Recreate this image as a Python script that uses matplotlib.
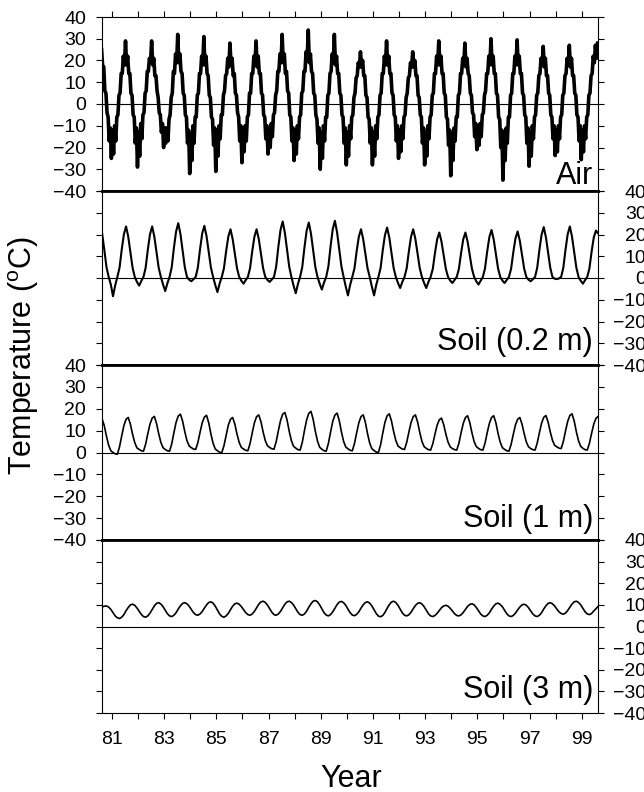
import numpy as np
import matplotlib
matplotlib.use("Agg")
import matplotlib.pyplot as plt

plt.rcParams["font.family"] = ["Liberation Sans", "DejaVu Sans"]
plt.rcParams["mathtext.fontset"] = "custom"
plt.rcParams["mathtext.rm"] = "Liberation Sans"

# Air temperature, two values per month (envelope of the daily scatter), from Aug 1980
air_start = 80 + 14.5 / 24
air_temp = [
    25, 17, 17, 6, 5, -4, -6, -17, -11, -25,
    -12, -23, -10, -17, -6, -5, 4, 5, 14, 14, 22, 18, 29, 18, 22, 14, 14, 5, 4, -5, -6, -18, -11, -29,
    -13, -24, -9, -16, -5, -4, 5, 6, 15, 15, 21, 19, 29, 18, 21, 13, 13, 6, 3, -4, -5, -13, -9, -20,
    -11, -18, -11, -17, -7, -5, 3, 5, 15, 14, 23, 19, 32, 19, 23, 15, 14, 5, 4, -5, -6, -18, -12, -32,
    -14, -26, -10, -18, -6, -6, 4, 5, 14, 14, 22, 18, 31, 18, 22, 14, 13, 4, 3, -6, -7, -19, -11, -31,
    -13, -24, -10, -16, -5, -5, 4, 6, 13, 14, 21, 17, 28, 18, 21, 13, 14, 5, 4, -4, -6, -17, -10, -27,
    -12, -22, -10, -17, -6, -5, 5, 5, 14, 14, 22, 18, 29, 17, 22, 14, 14, 5, 4, -5, -6, -16, -10, -23,
    -11, -20, -9, -15, -5, -4, 4, 6, 15, 15, 23, 19, 32, 19, 23, 14, 15, 6, 5, -5, -6, -17, -11, -26,
    -12, -23, -10, -16, -6, -5, 5, 6, 15, 15, 24, 20, 34, 19, 23, 15, 14, 5, 4, -5, -7, -18, -11, -30,
    -13, -25, -10, -17, -6, -6, 4, 5, 14, 15, 23, 19, 32, 18, 22, 14, 14, 5, 4, -5, -6, -18, -11, -28,
    -13, -24, -10, -16, -6, -5, 3, 5, 12, 13, 19, 17, 24, 17, 20, 13, 13, 4, 3, -6, -7, -18, -11, -28,
    -13, -24, -10, -16, -6, -5, 4, 5, 14, 14, 22, 18, 29, 18, 22, 14, 14, 5, 4, -5, -6, -17, -10, -25,
    -12, -22, -10, -16, -6, -5, 3, 5, 12, 13, 19, 17, 24, 17, 20, 13, 13, 4, 3, -5, -6, -18, -11, -28,
    -13, -24, -10, -16, -6, -5, 4, 5, 14, 14, 22, 18, 29, 18, 22, 14, 14, 5, 4, -6, -7, -19, -12, -33,
    -14, -26, -11, -17, -6, -6, 4, 5, 14, 14, 21, 18, 28, 17, 21, 14, 13, 5, 4, -4, -5, -15, -9, -21,
    -11, -19, -9, -15, -5, -4, 4, 6, 14, 14, 22, 18, 30, 18, 22, 14, 14, 5, 4, -6, -7, -20, -12, -35,
    -14, -26, -11, -18, -6, -6, 4, 5, 14, 14, 22, 18, 29.5, 18, 22, 14, 14, 5, 4, -5, -6, -18, -11, -28.6,
    -13, -24, -10, -16, -6, -5, 4, 5, 13, 14, 21, 18, 26.5, 17, 21, 13, 13, 5, 4, -5, -6, -16, -10, -23.7,
    -12, -22, -10, -16, -6, -5, 4, 5, 13, 14, 21, 18, 27, 17, 21, 13, 13, 5, 4, -5, -6, -17, -10, -25.6,
    -12, -22, -10, -16, -6, -5, 4, 5, 13, 14, 22, 19, 27, 21, 28,
]

# Soil temperatures, monthly, from Aug 1980
soil_start = 80 + 7.5 / 12
soil02_temp = [
    20.5, 13.0, 5.0, 0.5, -3.0,
    -8.4, -3.4, 0.5, 4.7, 13.0, 20.1, 23.7, 19.0, 11.9, 4.7, 0.5, -1.8,
    -3.5, -1.4, 0.5, 4.7, 13.0, 20.1, 23.7, 19.0, 11.9, 4.7, 0.5, -3.0,
    -6.0, -2.4, 0.5, 5.0, 13.9, 21.4, 25.2, 20.2, 12.6, 5.0, 0.5, -0.8,
    -1.5, -0.6, 0.5, 4.8, 13.2, 20.4, 24.0, 19.2, 12.0, 4.8, 0.5, -3.2,
    -6.5, -2.6, 0.5, 4.5, 12.3, 19.0, 22.4, 17.9, 11.2, 4.5, 0.5, -1.3,
    -2.6, -1.0, 0.5, 4.5, 12.3, 19.0, 22.4, 17.9, 11.2, 4.5, 0.5, -0.9,
    -1.8, -0.7, 0.5, 5.2, 14.3, 22.1, 26.0, 20.8, 13.0, 5.2, 0.5, -3.5,
    -7.0, -2.8, 0.5, 5.1, 14.0, 21.7, 25.5, 20.4, 12.8, 5.1, 0.5, -2.6,
    -5.3, -2.1, 0.5, 5.3, 14.5, 22.4, 26.3, 21.0, 13.2, 5.3, 0.5, -4.0,
    -8.0, -3.2, 0.5, 4.5, 12.3, 19.0, 22.4, 17.9, 11.2, 4.5, 0.5, -4.0,
    -8.0, -3.2, 0.5, 4.6, 12.8, 19.7, 23.2, 18.6, 11.6, 4.6, 0.5, -2.3,
    -4.6, -1.8, 0.5, 4.5, 12.3, 19.0, 22.4, 17.9, 11.2, 4.5, 0.5, -2.3,
    -4.6, -1.8, 0.5, 4.2, 11.5, 17.8, 20.9, 16.7, 10.5, 4.2, 0.5, -1.2,
    -2.3, -0.9, 0.5, 4.2, 11.5, 17.8, 20.9, 16.7, 10.5, 4.2, 0.5, -1.5,
    -3.0, -1.2, 0.5, 4.4, 12.2, 18.8, 22.1, 17.7, 11.1, 4.4, 0.5, -1.2,
    -2.3, -0.9, 0.5, 4.3, 11.8, 18.2, 21.4, 17.1, 10.7, 4.3, 0.5, -0.8,
    -1.5, -0.6, 0.5, 4.7, 12.9, 19.9, 23.4, 18.7, 11.7, 4.7, 0.5, -0.3,
    -0.5, -0.2, 0.5, 4.7, 13.0, 20.1, 23.7, 19.0, 11.9, 4.7, 0.5, -1.3,
    -2.6, -1.0, 0.5, 4.4, 12.1, 18.7, 21.8, 20.5,
]
soil1_temp = [
    15.3, 12.2, 7.4, 3.3, 0.8,
    0.0, -0.6, -0.8, 2.6, 7.6, 12.3, 15.2, 16.0, 12.9, 8.3, 4.5, 2.1,
    1.4, 0.8, 0.6, 3.8, 8.6, 13.0, 15.7, 16.5, 13.3, 8.6, 4.6, 2.2,
    1.4, 0.8, 0.6, 4.0, 9.1, 13.8, 16.7, 17.5, 14.3, 9.5, 5.4, 3.0,
    2.2, 1.6, 1.4, 4.5, 9.2, 13.6, 16.2, 17.0, 13.6, 8.5, 4.2, 1.6,
    0.8, 0.1, -0.1, 3.1, 7.9, 12.5, 15.2, 16.0, 13.0, 8.4, 4.6, 2.3,
    1.6, 1.0, 0.8, 4.1, 9.0, 13.6, 16.4, 17.2, 14.1, 9.4, 5.4, 3.1,
    2.3, 1.7, 1.5, 4.9, 9.9, 14.6, 17.5, 18.3, 14.9, 9.7, 5.4, 2.8,
    2.0, 1.3, 1.1, 4.6, 10.0, 14.9, 17.9, 18.8, 15.2, 9.7, 5.2, 2.4,
    1.5, 0.8, 0.6, 4.1, 9.3, 14.2, 17.1, 18.0, 14.6, 9.4, 5.1, 2.5,
    1.7, 1.0, 0.8, 4.1, 9.0, 13.6, 16.4, 17.2, 13.8, 8.6, 4.3, 1.7,
    0.9, 0.2, 0.0, 3.5, 8.9, 13.8, 16.8, 17.7, 14.4, 9.6, 5.5, 3.0,
    2.2, 1.6, 1.4, 4.6, 9.3, 13.7, 16.4, 17.2, 14.0, 9.2, 5.1, 2.7,
    1.9, 1.3, 1.1, 4.0, 8.4, 12.5, 15.0, 15.7, 12.8, 8.4, 4.8, 2.6,
    1.8, 1.3, 1.1, 4.2, 9.0, 13.3, 16.0, 16.8, 13.7, 9.0, 5.0, 2.7,
    1.9, 1.3, 1.1, 4.2, 9.0, 13.3, 16.0, 16.8, 13.6, 8.7, 4.7, 2.2,
    1.4, 0.8, 0.6, 3.7, 8.3, 12.6, 15.2, 16.0, 13.0, 8.6, 4.8, 2.6,
    1.8, 1.3, 1.1, 4.3, 9.0, 13.4, 16.1, 16.9, 13.9, 9.4, 5.6, 3.3,
    2.6, 2.0, 1.8, 5.0, 9.8, 14.2, 16.9, 17.7, 14.4, 9.4, 5.3, 2.8,
    1.9, 1.3, 1.1, 4.2, 8.8, 13.0, 15.6, 16.5,
]
soil3_temp = [
    9.0, 9.4, 9.5, 9.0, 7.9,
    6.4, 4.9, 4.0, 3.7, 4.3, 5.5, 7.3, 8.8, 10.0, 10.3, 9.8, 8.6,
    7.1, 5.6, 4.6, 4.3, 4.9, 6.2, 7.9, 9.5, 10.7, 11.0, 10.4, 9.2,
    7.5, 5.9, 4.9, 4.6, 5.2, 6.4, 8.1, 9.6, 10.7, 11.0, 10.5, 9.4,
    7.9, 6.4, 5.5, 5.2, 5.8, 6.9, 8.5, 10.0, 11.1, 11.4, 10.8, 9.4,
    7.6, 5.8, 4.7, 4.3, 4.9, 6.1, 7.8, 9.4, 10.5, 10.8, 10.3, 9.2,
    7.8, 6.4, 5.5, 5.2, 5.8, 7.0, 8.7, 10.3, 11.4, 11.7, 11.1, 9.9,
    8.2, 6.6, 5.5, 5.2, 5.8, 7.0, 8.7, 10.3, 11.4, 11.7, 11.1, 9.9,
    8.2, 6.6, 5.5, 5.2, 5.8, 7.1, 8.9, 10.5, 11.7, 12.0, 11.4, 10.0,
    8.2, 6.4, 5.3, 4.9, 5.5, 6.8, 8.5, 10.1, 11.3, 11.6, 11.0, 9.8,
    8.0, 6.4, 5.3, 5.0, 5.6, 6.8, 8.5, 10.0, 11.1, 11.4, 10.8, 9.5,
    7.7, 6.0, 4.8, 4.5, 5.1, 6.5, 8.4, 10.1, 11.3, 11.7, 11.1, 9.8,
    8.0, 6.3, 5.2, 4.9, 5.4, 6.6, 8.2, 9.7, 10.7, 11.0, 10.4, 9.2,
    7.5, 5.9, 4.9, 4.6, 5.1, 6.1, 7.4, 8.7, 9.5, 9.8, 9.4, 8.4,
    7.2, 5.9, 5.1, 4.9, 5.4, 6.5, 7.9, 9.3, 10.2, 10.5, 10.0, 8.8,
    7.3, 5.8, 4.9, 4.6, 5.2, 6.3, 8.0, 9.4, 10.5, 10.8, 10.2, 9.1,
    7.5, 5.9, 4.9, 4.6, 5.1, 6.2, 7.7, 9.0, 10.0, 10.3, 9.8, 8.7,
    7.2, 5.8, 4.9, 4.6, 5.2, 6.4, 8.1, 9.6, 10.7, 11.0, 10.5, 9.5,
    8.1, 6.8, 6.0, 5.7, 6.2, 7.4, 8.9, 10.4, 11.4, 11.7, 11.1, 10.0,
    8.4, 6.8, 5.8, 5.5, 6.0, 7.2, 8.2, 9.3,
]

panel_names = ["Air", "Soil (0.2 m)", "Soil (1 m)", "Soil (3 m)"]
years = list(range(81, 100))
year_labels = [str(y) if y % 2 else "" for y in years]
temp_ticks = list(range(-40, 41, 10))

air_t = air_start + np.arange(len(air_temp)) / 24
soil_t = soil_start + np.arange(len(soil02_temp)) / 12
series = [
    (air_t, air_temp, 2.6),
    (soil_t, soil02_temp, 1.5),
    (soil_t, soil1_temp, 1.2),
    (soil_t, soil3_temp, 1.2),
]

fig = plt.figure(figsize=(6.44, 7.92), dpi=100)
left, width = 102 / 644, 496 / 644
tops_px = [17, 191, 365, 540, 713]
label_y = [0.039, 0.086, 0.077, 0.086]

for i, (t, vals, lw) in enumerate(series):
    bottom = 1 - tops_px[i + 1] / 792
    height = (tops_px[i + 1] - tops_px[i]) / 792
    ax = fig.add_axes([left, bottom, width, height])
    ax.plot(t, vals, color="black", lw=lw)
    ax.axhline(0, color="black", lw=0.8)
    ax.set_xlim(80.62, 99.62)
    ax.set_ylim(-40, 40)

    ax.set_yticks(temp_ticks)
    right_side = i % 2 == 1
    ax.tick_params(axis="y", direction="out", length=4, width=0.8,
                   left=True, right=True, labelleft=not right_side,
                   labelright=right_side, labelsize=14,
                   pad=31 if right_side else 7.5)
    if right_side:
        for tk in ax.yaxis.get_major_ticks():
            tk.label2.set_horizontalalignment("right")

    ax.set_xticks(years)
    if i == 0:
        ax.tick_params(axis="x", direction="out", length=4, width=0.8,
                       bottom=False, top=True, labelbottom=False, labeltop=False)
    elif i == 3:
        ax.set_xticklabels(year_labels)
        ax.tick_params(axis="x", direction="out", length=4, width=0.8,
                       bottom=True, top=False, labelsize=14, pad=9)
    else:
        ax.tick_params(axis="x", bottom=False, top=False, labelbottom=False)

    for side in ["left", "right"]:
        ax.spines[side].set_linewidth(0.8)
    ax.spines["top"].set_linewidth(0.8 if i == 0 else 2.0)
    ax.spines["bottom"].set_linewidth(2.0 if i < 3 else 0.8)

    ax.text(0.99, label_y[i], panel_names[i], transform=ax.transAxes,
            ha="right", va="baseline", fontsize=22)

fig.text(24 / 644, 1 - 356 / 792, "Temperature ($^{\\rm o}$C)", rotation=90,
         ha="center", va="center", fontsize=22)
fig.text(351 / 644, 1 - 787 / 792, "Year", ha="center", va="baseline", fontsize=22)

fig.savefig("out.png", dpi=100)
